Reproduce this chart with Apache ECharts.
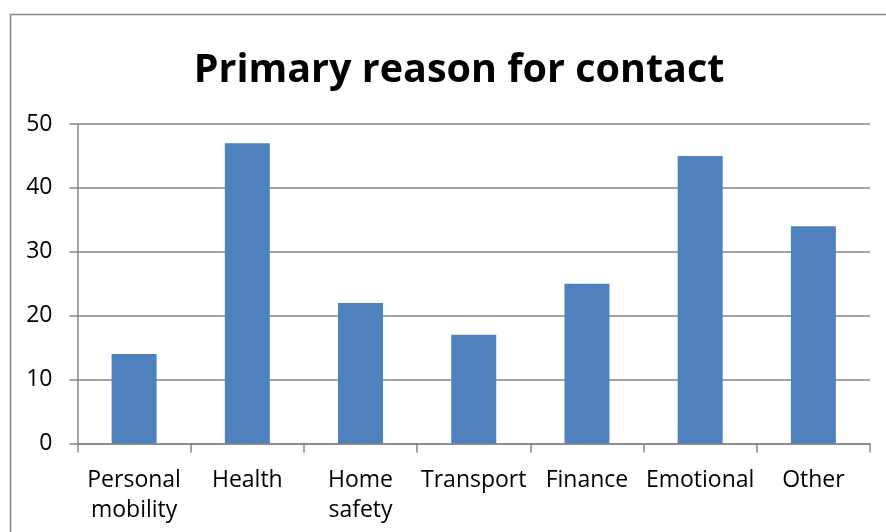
<!DOCTYPE html>
<html>
<head>
<meta charset="utf-8">
<script src="https://cdn.jsdelivr.net/npm/echarts@6/dist/echarts.min.js"></script>
<style>html,body{margin:0;padding:0;background:#fff}#c{width:886px;height:532px}</style>
</head>
<body>
<div id="c"></div>
<script>
const categories = ["Personal\nmobility", "Health", "Home\nsafety", "Transport", "Finance", "Emotional", "Other"];
const values = [14, 47, 22, 17, 25, 45, 34];
const yTicks = { min: 0, max: 50, interval: 10 };
const titleText = "Primary reason for contact";

const chart = echarts.init(document.getElementById('c'), null, { renderer: 'canvas' });
const font = '"Open Sans", "Liberation Sans", sans-serif';
chart.setOption({
  animation: false,
  backgroundColor: '#fff',
  graphic: [{
    type: 'rect', left: 8, top: 12, silent: true,
    shape: { width: 1000, height: 1000 },
    style: { fill: 'none', stroke: '#868686', lineWidth: 1.5 }
  }],
  title: {
    text: titleText, left: 454, textAlign: 'center', top: 46,
    textStyle: { fontFamily: font, fontWeight: 'bold', fontSize: 39.5, color: '#000' }
  },
  grid: { left: 77.5, right: 16, top: 124, bottom: 88.5, containLabel: false },
  xAxis: {
    type: 'category', data: categories,
    axisLine: { lineStyle: { color: '#868686', width: 1.5 } },
    axisTick: { show: true, length: 9, inside: false, alignWithLabel: false, lineStyle: { color: '#868686', width: 1.5 } },
    axisLabel: { color: '#000', fontFamily: font, fontSize: 23, margin: 22, lineHeight: 30, interval: 0 }
  },
  yAxis: {
    type: 'value', min: yTicks.min, max: yTicks.max, interval: yTicks.interval,
    axisLine: { show: true, lineStyle: { color: '#868686', width: 1.5 } },
    axisTick: { show: true, length: 8, lineStyle: { color: '#868686', width: 1.5 } },
    axisLabel: { color: '#000', fontFamily: font, fontSize: 23, margin: 25 },
    splitLine: { lineStyle: { color: '#868686', width: 1.5 } }
  },
  series: [{
    type: 'bar', data: values, barWidth: 45,
    itemStyle: { color: '#4F81BD' }
  }]
});
</script>
</body>
</html>
